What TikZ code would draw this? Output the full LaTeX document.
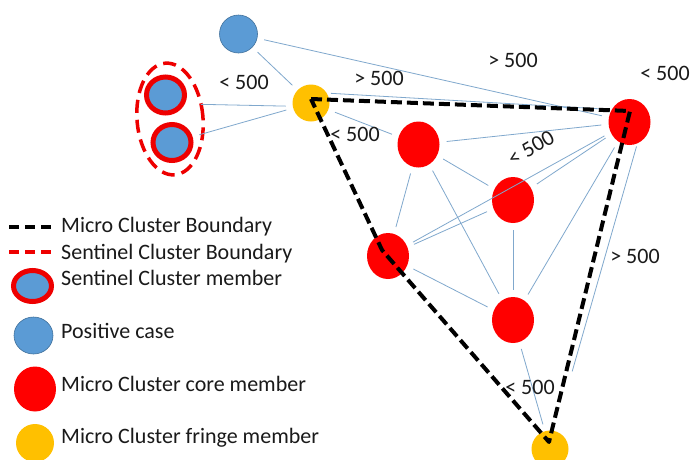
\documentclass[tikz,border=0pt]{standalone}
\usepackage{fontspec}
\setmainfont{Carlito}
\usetikzlibrary{shapes.geometric}
\definecolor{posblue}{HTML}{5B9BD5}
\definecolor{posedge}{HTML}{41719C}
\definecolor{fringeyellow}{HTML}{FFC000}
\definecolor{corered}{HTML}{FF0000}
\definecolor{ringred}{HTML}{EE0000}
\definecolor{edgeblue}{RGB}{128,168,205}
\definecolor{txt}{HTML}{1A1A1A}
\tikzset{
  posnode/.style={circle, fill=posblue, draw=posedge, line width=0.6pt, minimum size=38pt, inner sep=0pt},
  corenode/.style={ellipse, fill=corered, minimum width=42pt, minimum height=46pt, inner sep=0pt},
  fringenode/.style={circle, fill=fringeyellow, minimum size=37pt, inner sep=0pt},
  sentnode/.style={ellipse, fill=posblue, draw=ringred, line width=5pt, minimum width=38pt, minimum height=36pt, inner sep=0pt},
  edgeline/.style={draw=edgeblue, line width=0.8pt, shorten <=7pt, shorten >=7pt},
  boundary/.style={draw=black, line width=4pt, dash pattern=on 11pt off 5pt},
  sentboundary/.style={draw=ringred, line width=3.5pt, dash pattern=on 13pt off 7pt},
  lbl/.style={font=\fontsize{22pt}{26pt}\selectfont, text=txt, inner sep=0pt},
  legtext/.style={font=\fontsize{22pt}{26pt}\selectfont, text=txt, inner sep=0pt, anchor=base west}
}
\begin{document}
\begin{tikzpicture}[x=1pt,y=-1pt]
\useasboundingbox[fill=white] (0,0) rectangle (691,459);

% graph nodes
\node[posnode] (P) at (238.5,34) {};
\node[sentnode] (S1) at (165.5,95) {};
\node[sentnode] (S2) at (172,142.5) {};
\node[ellipse, sentboundary, minimum width=66pt, minimum height=112pt, inner sep=0pt, rotate=5] (SB) at (170,119) {};
\node[fringenode] (F1) at (311,103) {};
\node[fringenode] (F2) at (550,449) {};
\node[corenode] (CTR) at (629.5,122) {};
\node[corenode] (C1) at (418.5,144.5) {};
\node[corenode] (C2) at (513,200) {};
\node[corenode] (C3) at (388,256) {};
\node[corenode] (C4) at (513,320) {};

% thin connectors
\draw[edgeline] (P) -- (CTR);
\draw[edgeline] (P) -- (F1);
\draw[edgeline, shorten <=16pt] (S1.-25) -- (F1.190);
\draw[edgeline] (S2) -- (F1);
\draw[edgeline, shorten <=4pt, shorten >=3pt] (F1.32) -- (CTR.145);
\draw[edgeline] (F1) -- (C1);
\draw[edgeline] (C1) -- (CTR);
\draw[edgeline] (C3) -- (CTR);
\draw[edgeline] (C3) -- (C2);
\draw[edgeline] (C2) -- (CTR);
\draw[edgeline] (C1) -- (C2);
\draw[edgeline] (C1) -- (C3);
\draw[edgeline] (C1) -- (C4);
\draw[edgeline] (C2) -- (C4);
\draw[edgeline] (C3) -- (C4);
\draw[edgeline] (C4) -- (CTR);
\draw[edgeline, shorten <=3pt, shorten >=62pt] (CTR.-70) -- (F2);
\draw[edgeline] (C4) -- (F2);

% micro cluster boundary
\coordinate (b1) at (311,99);
\coordinate (b2) at (630,111);
\coordinate (b3) at (549,442);
\coordinate (b4) at (382,250);
\draw[boundary, line join=round] (b1) -- (b2) -- (b3) -- (b4) -- cycle;

% distance labels
\node[lbl] (l1) at (244,82) {< 500};
\node[lbl] (l2) at (379,78) {> 500};
\node[lbl] (l3) at (513,60) {> 500};
\node[lbl] (l4) at (665,73) {< 500};
\node[lbl] (l5) at (355,134) {< 500};
\node[lbl, rotate=30] (l6) at (531,148) {< 500};
\node[lbl] (l7) at (635,256) {> 500};
\node[lbl] (l8) at (530,387) {< 500};

% legend
\coordinate (k1a) at (9,227);
\coordinate (k1b) at (52,227);
\draw[draw=black, line width=4pt, dash pattern=on 10pt off 6pt] (k1a) -- (k1b);
\node[legtext] (t1) at (61,232) {Micro Cluster Boundary};
\coordinate (k2a) at (9,252);
\coordinate (k2b) at (52,252);
\draw[draw=ringred, line width=4pt, dash pattern=on 10pt off 6pt] (k2a) -- (k2b);
\node[legtext] (t2) at (61,259) {Sentinel Cluster Boundary};
\node[sentnode, minimum width=38pt, minimum height=31pt] (k3) at (32.5,286) {};
\node[legtext] (t3) at (61,285) {Sentinel Cluster member};
\node[posnode, ellipse, minimum width=39pt, minimum height=37pt] (k4) at (33.5,335.5) {};
\node[legtext] (t4) at (61,338) {Positive case};
\node[corenode, minimum width=42pt, minimum height=45pt] (k5) at (35,389) {};
\node[legtext] (t5) at (61,391) {Micro Cluster core member};
\node[fringenode, minimum size=38pt] (k6) at (35,443) {};
\node[legtext] (t6) at (61,443) {Micro Cluster fringe member};
\end{tikzpicture}
\end{document}
